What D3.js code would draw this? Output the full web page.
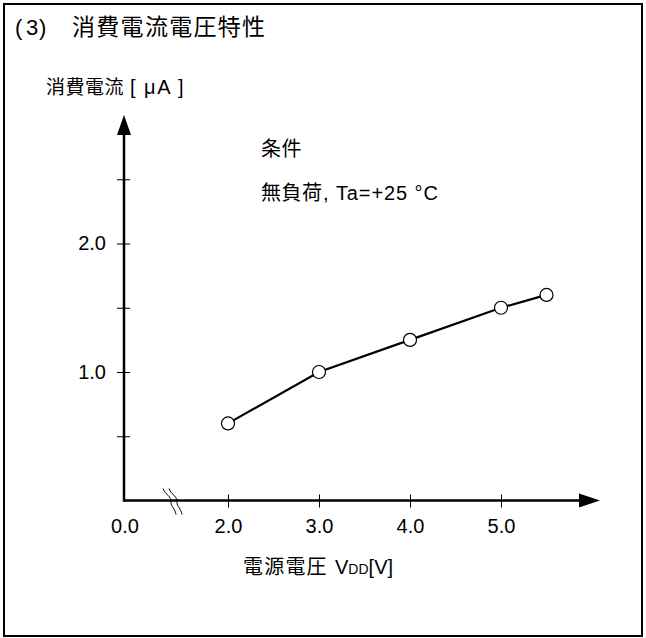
<!DOCTYPE html>
<html>
<head>
<meta charset="utf-8">
<script src="https://cdn.jsdelivr.net/npm/d3@7"></script>
<style>
  body { margin: 0; background: #fff; }
  svg text { font-family: "Liberation Sans", Arial, "Noto Sans CJK JP", sans-serif; fill: #000; }
</style>
</head>
<body>
<svg id="chart" width="646" height="638"></svg>
<script>
// data
const voltages = [2.0, 3.0, 4.0, 5.0, 5.5];
const currents = [0.6, 1.0, 1.25, 1.5, 1.6];
const xTicks = [2, 3, 4, 5];
const yTicks = [0.5, 1.0, 1.5, 2.0, 2.5];
const yLabelled = [1.0, 2.0];

const svg = d3.select('#chart');

// frame
svg.append('rect')
  .attr('x', 4).attr('y', 4)
  .attr('width', 638).attr('height', 632)
  .attr('fill', 'none').attr('stroke', '#000').attr('stroke-width', 2);

const originX = 124;
const originY = 500.5;
const xEnd = 600;
const yEnd = 115;

const x = d3.scaleLinear().domain([2, 5]).range([228, 501]);
const y = d3.scaleLinear().domain([0, 2]).range([originY, 243.5]);

// title
const title = svg.append('text').attr('y', 35).attr('font-size', 22);
title.append('tspan').attr('x', 15).text('(');
title.append('tspan').attr('x', 26).text('3');
title.append('tspan').attr('x', 39).text(')');
title.append('tspan').attr('x', 72).attr('font-size', 23).attr('letter-spacing', 1.3).text('消費電流電圧特性');

// y label
const yl = svg.append('text').attr('y', 94).attr('font-size', 19);
yl.append('tspan').attr('x', 46).attr('letter-spacing', 0.5).text('消費電流');
yl.append('tspan').attr('x', 130).attr('font-size', 20).attr('letter-spacing', 1.5).text('[ μA ]');

// conditions
svg.append('text').attr('x', 261).attr('y', 155.5).attr('font-size', 20)
  .attr('letter-spacing', 0.5).text('条件');
const cond = svg.append('text').attr('y', 200).attr('font-size', 20);
cond.append('tspan').attr('x', 261).attr('letter-spacing', 0.5).text('無負荷');
cond.append('tspan').attr('x', 323).attr('letter-spacing', 0.9).text(', Ta=+25 °C');

// x axis label
const xl = svg.append('text').attr('y', 574).attr('font-size', 20);
xl.append('tspan').attr('x', 243).attr('letter-spacing', 1.2).text('電源電圧');
xl.append('tspan').attr('x', 335).text('V');
xl.append('tspan').attr('font-size', 14).text('DD');
xl.append('tspan').text('[V]');

// ticks via d3 axes, then make them cross the axis line
const xAxis = svg.append('g')
  .attr('transform', `translate(0,${originY})`)
  .call(d3.axisBottom(x).tickValues(xTicks).tickSize(0).tickPadding(18)
    .tickFormat(d3.format('.1f')));
xAxis.select('.domain').remove();
xAxis.selectAll('.tick line').attr('y1', -6).attr('y2', 7).attr('stroke', '#000').attr('stroke-width', 1);
xAxis.selectAll('.tick text').attr('font-size', 20).attr('font-family', null);

const yAxis = svg.append('g')
  .attr('transform', `translate(${originX},0)`)
  .call(d3.axisLeft(y).tickValues(yTicks).tickSize(0).tickPadding(18)
    .tickFormat(d => yLabelled.includes(d) ? d3.format('.1f')(d) : ''));
yAxis.select('.domain').remove();
yAxis.selectAll('.tick line').attr('x1', -7).attr('x2', 6).attr('stroke', '#000').attr('stroke-width', 1);
yAxis.selectAll('.tick text').attr('font-size', 20).attr('font-family', null);

// origin label
svg.append('text').attr('x', originX + 1).attr('y', 533).attr('font-size', 20)
  .attr('text-anchor', 'middle').text('0.0');

// axis lines
svg.append('line')
  .attr('x1', originX).attr('y1', originY).attr('x2', xEnd - 18).attr('y2', originY)
  .attr('stroke', '#000').attr('stroke-width', 2.5);
svg.append('line')
  .attr('x1', originX).attr('y1', originY + 1.2).attr('x2', originX).attr('y2', yEnd + 16)
  .attr('stroke', '#000').attr('stroke-width', 2.5);

// arrowheads
svg.append('path')
  .attr('d', `M${xEnd},${originY} L${xEnd - 21},${originY - 7} L${xEnd - 21},${originY + 7} Z`)
  .attr('fill', '#000');
svg.append('path')
  .attr('d', `M${originX},${yEnd} L${originX - 7},${yEnd + 20} L${originX + 7},${yEnd + 20} Z`)
  .attr('fill', '#000');

// axis break marks
const breakX = 163;
[0, 6].forEach(dx => {
  const bx = breakX + dx;
  svg.append('path')
    .attr('d', `M${bx},${originY - 12} C${bx + 2},${originY - 6} ${bx + 9},${originY - 4} ${bx + 8},${originY + 2} ` +
      `C${bx + 8},${originY + 6} ${bx + 12},${originY + 8} ${bx + 13},${originY + 14}`)
    .attr('fill', 'none').attr('stroke', '#000').attr('stroke-width', 1);
});

// data line and markers
const pts = voltages.map((v, i) => [v, currents[i]]);
svg.append('path')
  .datum(pts)
  .attr('d', d3.line().x(d => x(d[0])).y(d => y(d[1])))
  .attr('fill', 'none').attr('stroke', '#000').attr('stroke-width', 2.2);

svg.selectAll('circle.pt')
  .data(pts)
  .enter().append('circle')
  .attr('class', 'pt')
  .attr('cx', d => x(d[0]))
  .attr('cy', d => y(d[1]))
  .attr('r', 6.5)
  .attr('fill', '#fff').attr('stroke', '#000').attr('stroke-width', 1.2);
</script>
</body>
</html>
